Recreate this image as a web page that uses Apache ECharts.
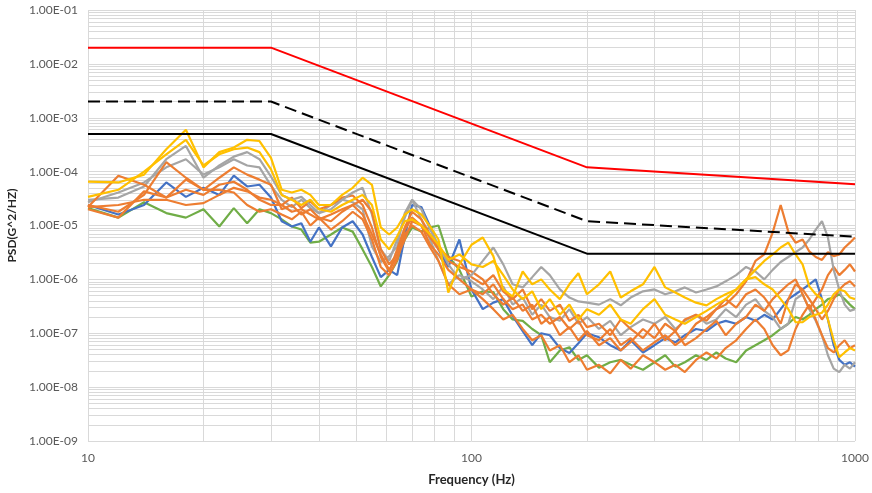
<!DOCTYPE html>
<html><head><meta charset="utf-8">
<script src="https://cdn.jsdelivr.net/npm/echarts@6/dist/echarts.min.js"></script>
<style>html,body{margin:0;padding:0;background:#fff}#c{width:872px;height:493px}</style>
</head><body><div id="c"></div>
<script>
const freqHz = [10,12,14,16,18,20,22,24,26,28,30,
 32,34,36,38,40,43,46,49,52,55,58,61,64,67,70,74,78,82,87,93,100,
 107,114,121,128,136,144,152,160,170,180,190,200,
 215,230,245,260,280,300,320,340,360,385,410,435,460,490,520,550,580,610,640,670,700,730,760,790,820,850,880,910,940,970,1000];

const psdYellowA = [6.5e-5,6.3e-5,8.8e-5,2.6e-4,6e-4,1.2e-4,2.3e-4,2.8e-4,3.9e-4,3.7e-4,1.8e-4,
 4.6e-5,4.1e-5,4.6e-5,3.7e-5,2.4e-5,2.4e-5,3.7e-5,5e-5,7.7e-5,5.7e-5,9.2e-6,6.8e-6,9.2e-6,1.6e-5,2e-5,1.6e-5,9.6e-6,5.5e-6,5.7e-7,1.9e-6,4.4e-6,
 6e-6,2.7e-6,6.5e-7,4.8e-7,1.4e-6,8.1e-7,1e-6,6.5e-7,4.3e-7,8.1e-7,1.3e-6,5.3e-7,
 8.1e-7,1.4e-6,4.6e-7,6e-7,8.1e-7,1.7e-6,7.1e-7,5.7e-7,4.6e-7,3.7e-7,3.3e-7,4.3e-7,5.3e-7,6.5e-7,1e-6,1.1e-6,8.1e-7,6.5e-7,4.3e-7,2.8e-7,1.6e-7,1.6e-7,2e-7,2.2e-7,2.4e-7,3.4e-7,5.3e-7,6.5e-7,6e-7,4.6e-7,4.3e-7];
const psdYellowB = [3.4e-5,4.6e-5,1e-4,2.1e-4,3.9e-4,1.3e-4,2.1e-4,2.6e-4,2.8e-4,2.3e-4,1.1e-4,
 3.7e-5,3e-5,2.4e-5,3e-5,2e-5,1.8e-5,2.4e-5,3e-5,3.7e-5,2.4e-5,5.5e-6,3.6e-6,6.3e-6,1.2e-5,1.3e-5,1e-5,6.8e-6,4.4e-6,2.3e-6,2.9e-6,1.9e-6,
 1.7e-6,2.2e-6,1.2e-6,6.5e-7,4.3e-7,6e-7,2.8e-7,4.3e-7,2.2e-7,3.4e-7,1.8e-7,2.8e-7,
 2.2e-7,3.4e-7,1.8e-7,1.5e-7,2.8e-7,4.3e-7,2.2e-7,1.8e-7,1.5e-7,2e-7,2.6e-7,3.4e-7,4.3e-7,6.5e-7,1e-6,1.5e-6,2.2e-6,2.9e-6,3.9e-6,4.8e-6,2.9e-6,1.9e-6,7.4e-7,5.3e-7,4.3e-7,1.8e-7,7.4e-8,3.6e-8,4.4e-8,5.3e-8,4.8e-8];
const psdGrayA = [3e-5,3.3e-5,5.3e-5,1.7e-4,3e-4,7.7e-5,1.3e-4,1.9e-4,2.3e-4,1.7e-4,8.1e-5,
 3.7e-5,3e-5,3.4e-5,2.4e-5,1.7e-5,2e-5,3e-5,4.1e-5,5e-5,1.6e-5,3.6e-6,2.2e-6,5.5e-6,1.4e-5,3e-5,2e-5,8.4e-6,4.4e-6,1.9e-6,1e-6,1.2e-6,
 2.2e-6,3.9e-6,1.9e-6,8.1e-7,7.1e-7,1.1e-6,1.7e-6,1.2e-6,6.5e-7,4.6e-7,3.9e-7,3.7e-7,
 3.4e-7,4.3e-7,3.3e-7,4.6e-7,6e-7,6.5e-7,5.3e-7,6e-7,7.1e-7,5.7e-7,6.5e-7,7.4e-7,9.2e-7,1.2e-6,1.7e-6,1.4e-6,1e-6,1.5e-6,2.1e-6,2.6e-6,3.2e-6,3.9e-6,5.5e-6,8.4e-6,1.2e-5,6e-6,1.5e-6,6.5e-7,3.4e-7,2.6e-7,2.8e-7];
const psdGrayB = [2.7e-5,4.1e-5,6.3e-5,1.2e-4,1.7e-4,8.8e-5,1.2e-4,1.7e-4,1.3e-4,1.2e-4,5.5e-5,
 3e-5,2.2e-5,3e-5,2.1e-5,1.7e-5,2.4e-5,3e-5,2.7e-5,2e-5,4.1e-6,2.1e-6,2.7e-6,4.1e-6,1.7e-5,3e-5,1.3e-5,5.5e-6,2.2e-6,8.1e-7,1.2e-6,9.2e-7,
 6.5e-7,4.3e-7,7.4e-7,3.4e-7,4.6e-7,2.2e-7,3.4e-7,2e-7,1.7e-7,2.8e-7,1.5e-7,2e-7,
 1.2e-7,1.7e-7,9.2e-8,1.3e-7,1.8e-7,1.5e-7,2e-7,1.2e-7,1.7e-7,2.2e-7,1.5e-7,1.8e-7,2.8e-7,2e-7,3.4e-7,4.3e-7,2.6e-7,2e-7,1.2e-7,1.5e-7,4.3e-7,5.3e-7,2.8e-7,1.7e-7,9.2e-8,3.9e-8,2.2e-8,1.9e-8,2.6e-8,2.2e-8,2.9e-8];
const psdOrangeA = [2.2e-5,8.4e-5,5.7e-5,3.3e-5,4.6e-5,3.7e-5,5.7e-5,6.5e-5,4.6e-5,3e-5,2.4e-5,
 2.4e-5,1.8e-5,2e-5,1.6e-5,1.3e-5,1.6e-5,2e-5,2.4e-5,3e-5,1.8e-5,3.6e-6,1.9e-6,2.9e-6,8.4e-6,1.4e-5,1e-5,4.4e-6,2.9e-6,1.5e-6,1e-6,6.5e-7,
 5.3e-7,8.1e-7,4.3e-7,2.8e-7,3.4e-7,1.8e-7,2.2e-7,1.5e-7,2e-7,1.2e-7,1.7e-7,9.2e-8,
 7.4e-8,1.2e-7,6e-8,8.1e-8,4.8e-8,6.8e-8,9.2e-8,6e-8,8.1e-8,1.5e-7,2e-7,2.8e-7,3.4e-7,5.3e-7,9.2e-7,2.2e-6,2.9e-6,7.4e-6,2.4e-5,7.7e-6,4.8e-6,5.5e-6,3.3e-6,2.6e-6,2.3e-6,3.2e-6,2.7e-6,2.9e-6,3.9e-6,4.8e-6,6e-6];
const psdOrangeB = [2.4e-5,1.8e-5,3.7e-5,1.5e-4,7.7e-5,4.6e-5,7.7e-5,1.2e-4,8.8e-5,7.1e-5,5.7e-5,
 2e-5,2.4e-5,1.6e-5,2e-5,1.4e-5,1.2e-5,1.8e-5,2.4e-5,1.6e-5,6.8e-6,2.9e-6,1.5e-6,2.6e-6,5.5e-6,1.2e-5,1e-5,6e-6,3.6e-6,2.2e-6,1.7e-6,1.4e-6,
 1e-6,5.3e-7,3.4e-7,4.6e-7,2.6e-7,3.4e-7,1.5e-7,2e-7,9.2e-8,1.3e-7,7.4e-8,1.1e-7,
 6e-8,8.1e-8,4.8e-8,6.8e-8,1.2e-7,8.1e-8,1.5e-7,1.1e-7,1.8e-7,2.2e-7,1.7e-7,2.8e-7,4.3e-7,3e-7,5.3e-7,6.5e-7,4.6e-7,2.8e-7,1.5e-7,4.3e-7,8.1e-7,6.5e-7,4.3e-7,2.8e-7,1.8e-7,2.6e-7,4.3e-7,6.5e-7,8.1e-7,9.2e-7,7.4e-7];
const psdOrangeC = [2e-5,1.4e-5,4.3e-5,3.3e-5,7.1e-5,4.6e-5,4.6e-5,4.1e-5,2.4e-5,1.8e-5,2e-5,
 1.6e-5,1.3e-5,1.8e-5,1e-5,1.4e-5,8.4e-6,1.2e-5,1.8e-5,1.3e-5,5.5e-6,1.7e-6,1.2e-6,2.3e-6,6.8e-6,1e-5,7.7e-6,3.9e-6,2.2e-6,8.1e-7,5.3e-7,6.5e-7,
 4.3e-7,2.8e-7,1.8e-7,2.2e-7,1.2e-7,7.4e-8,9.2e-8,4.8e-8,6e-8,2.9e-8,3.9e-8,2.1e-8,
 2.6e-8,1.8e-8,3.2e-8,2.2e-8,3.9e-8,2.9e-8,2.1e-8,2.6e-8,1.9e-8,3.2e-8,4.4e-8,3.4e-8,5.3e-8,7.4e-8,1.2e-7,1.8e-7,1.2e-7,6e-8,3.9e-8,4.8e-8,1.2e-7,2.2e-7,3.4e-7,1.8e-7,9.2e-8,5.3e-8,4.4e-8,6e-8,7.4e-8,5.3e-8,6e-8];
const psdOrangeD = [2.2e-5,2.4e-5,3e-5,3e-5,2.4e-5,2.6e-5,3.7e-5,5e-5,4.3e-5,3.3e-5,3e-5,
 2.4e-5,3.3e-5,2.1e-5,2.8e-5,2e-5,2.4e-5,3.3e-5,3.6e-5,2.4e-5,9.2e-6,2.6e-6,1.4e-6,3.6e-6,9.2e-6,1.8e-5,1.3e-5,6.8e-6,3.9e-6,2.6e-6,2.2e-6,1.1e-6,
 8.1e-7,1.2e-6,6e-7,4.3e-7,6.5e-7,2.8e-7,4.3e-7,2.6e-7,3.4e-7,1.7e-7,2.2e-7,1.3e-7,
 1.5e-7,9.2e-8,1.8e-7,1.2e-7,8.1e-8,1.5e-7,7.4e-8,1.1e-7,6e-8,8.1e-8,1.2e-7,1.7e-7,9.2e-8,1.5e-7,2e-7,3.4e-7,2.6e-7,4.3e-7,6e-7,8.1e-7,1e-6,5.3e-7,2.8e-7,4.3e-7,6.5e-7,1.2e-6,1.7e-6,1.2e-6,1.5e-6,1.9e-6,1.4e-6];
const psdBlue = [2.4e-5,1.6e-5,2.4e-5,6.3e-5,3.4e-5,5e-5,3.7e-5,8.4e-5,5.3e-5,5.7e-5,3.3e-5,
 1.2e-5,9.6e-6,1.1e-5,5e-6,9.2e-6,4.1e-6,9.2e-6,1.2e-5,6.8e-6,2.6e-6,1.1e-6,1.5e-6,1.2e-6,6.3e-6,2.4e-5,2.2e-5,9.6e-6,3.6e-6,1.7e-6,5.5e-6,6.5e-7,
 2.8e-7,3.7e-7,4.3e-7,2.1e-7,1.1e-7,6e-8,1e-7,9.2e-8,5.3e-8,4.3e-8,6.5e-8,1e-7,
 8.4e-8,6e-8,4.8e-8,7.4e-8,4.4e-8,6e-8,8.1e-8,6.8e-8,9.2e-8,1.2e-7,1.1e-7,1.5e-7,1.7e-7,1.5e-7,2e-7,1.7e-7,2.2e-7,1.8e-7,2.8e-7,4.3e-7,5.3e-7,6.5e-7,8.1e-7,1e-6,4.3e-7,1.8e-7,6e-8,3.2e-8,2.6e-8,2.9e-8,2.4e-8];
const psdGreen = [2.1e-5,1.4e-5,2.7e-5,1.7e-5,1.4e-5,2e-5,9.6e-6,2.1e-5,1.1e-5,2e-5,1.7e-5,
 1.3e-5,9.6e-6,8.4e-6,4.8e-6,5e-6,6.8e-6,9.2e-6,7.7e-6,3.6e-6,1.7e-6,7.4e-7,1.2e-6,2.2e-6,5.5e-6,9.2e-6,7.7e-6,9.2e-6,1e-5,2.7e-6,1.5e-6,4.8e-7,
 6e-7,5.8e-7,2.8e-7,1.8e-7,1.7e-7,1.2e-7,9.2e-8,2.9e-8,4.8e-8,5.5e-8,3.2e-8,3.9e-8,
 2.3e-8,2.9e-8,3.2e-8,2.6e-8,2.1e-8,2.9e-8,3.9e-8,2.4e-8,2.9e-8,3.9e-8,3.2e-8,4.4e-8,3.4e-8,2.9e-8,4.8e-8,6e-8,7.4e-8,9.2e-8,1.2e-7,1.5e-7,2e-7,1.8e-7,2.2e-7,2.8e-7,3.4e-7,4.3e-7,4.6e-7,5.3e-7,4.3e-7,3.4e-7,2.8e-7];

const limitFreq = [10, 30, 200, 1000];
const limitRed = [0.02, 0.02, 1.2e-4, 5.8e-5];
const limitDashed = [2e-3, 2e-3, 1.2e-5, 6.2e-6];
const limitSolid = [5e-4, 5e-4, 3e-6, 3e-6];

const xTickLabels = ['10', '100', '1000'];
const yTickLabels = ['1.00E-09','1.00E-08','1.00E-07','1.00E-06','1.00E-05','1.00E-04','1.00E-03','1.00E-02','1.00E-01'];

// minor gridline positions (2..9 per decade)
const yMinor = [], xMinor = [];
for (let e = -9; e < -1; e++) for (let k = 2; k <= 9; k++) yMinor.push(k * Math.pow(10, e));
for (let e = 1; e < 3; e++) for (let k = 2; k <= 9; k++) xMinor.push(k * Math.pow(10, e));

const pair = (xs, ys) => xs.map((x, i) => [x, ys[i]]);
const FONT = 'Lato, "Noto Sans", sans-serif';

function dataSeries(name, color, ys) {
  return { name, type: 'line', data: pair(freqHz, ys), showSymbol: false, symbol: 'none',
    lineStyle: { color, width: 2.2 }, itemStyle: { color }, z: 3, silent: true, animation: false };
}
function limitSeries(name, color, ys, type) {
  return { name, type: 'line', data: pair(limitFreq, ys), showSymbol: false, symbol: 'none',
    lineStyle: { color, width: 2, type: type || 'solid' }, z: 4, silent: true, animation: false };
}

const chart = echarts.init(document.getElementById('c'), null, { renderer: 'canvas' });
chart.setOption({
  backgroundColor: '#ffffff',
  animation: false,
  grid: { left: 88, right: 17, top: 10, bottom: 52, containLabel: false, outerBoundsMode: 'none' },
  xAxis: {
    type: 'log', logBase: 10, min: 10, max: 1000,
    name: 'Frequency (Hz)', nameLocation: 'middle', nameGap: 32,
    nameTextStyle: { fontFamily: FONT, fontSize: 13, fontWeight: 'bold', color: '#262626' },
    axisLine: { show: false }, axisTick: { show: false },
    axisLabel: { fontFamily: FONT, fontSize: 12, color: '#595959', margin: 11,
      formatter: v => xTickLabels[Math.round(Math.log10(v)) - 1] || '' },
    splitLine: { show: true, lineStyle: { color: '#d9d9d9', width: 1 } },
    minorTick: { show: false }, minorSplitLine: { show: false }
  },
  yAxis: {
    type: 'log', logBase: 10, min: 1e-9, max: 1e-1,
    name: 'PSD(G^2/HZ)', nameLocation: 'middle', nameGap: 69,
    nameTextStyle: { fontFamily: FONT, fontSize: 12, fontWeight: 'bold', color: '#262626' },
    axisLine: { show: false }, axisTick: { show: false },
    axisLabel: { fontFamily: FONT, fontSize: 12, color: '#595959', margin: 10,
      formatter: v => yTickLabels[Math.round(Math.log10(v)) + 9] || '' },
    splitLine: { show: true, lineStyle: { color: '#d9d9d9', width: 1 } },
    minorTick: { show: false }, minorSplitLine: { show: false }
  },
  series: [
    { name: 'grid', type: 'line', data: [[10, 1e-9]], showSymbol: false, symbol: 'none',
      lineStyle: { width: 0 }, silent: true, z: 1, animation: false,
      markLine: { silent: true, z: 1, precision: 20, animation: false, symbol: ['none', 'none'], label: { show: false },
        emphasis: { disabled: true },
        lineStyle: { color: '#d9d9d9', width: 1, type: 'solid' },
        data: yMinor.map(v => ({ yAxis: v })).concat(xMinor.map(v => ({ xAxis: v }))) } },
    dataSeries('Green', '#70AD47', psdGreen),
    dataSeries('Blue', '#4472C4', psdBlue),
    dataSeries('Gray B', '#A5A5A5', psdGrayB),
    dataSeries('Orange C', '#ED7D31', psdOrangeC),
    dataSeries('Orange B', '#ED7D31', psdOrangeB),
    dataSeries('Orange D', '#ED7D31', psdOrangeD),
    dataSeries('Gray A', '#A5A5A5', psdGrayA),
    dataSeries('Orange A', '#ED7D31', psdOrangeA),
    dataSeries('Yellow B', '#FFC000', psdYellowB),
    dataSeries('Yellow A', '#FFC000', psdYellowA),
    limitSeries('Limit high', '#FF0000', limitRed),
    limitSeries('Limit mid', '#000000', limitDashed, [12, 6]),
    limitSeries('Limit low', '#000000', limitSolid)
  ]
});
</script></body></html>
